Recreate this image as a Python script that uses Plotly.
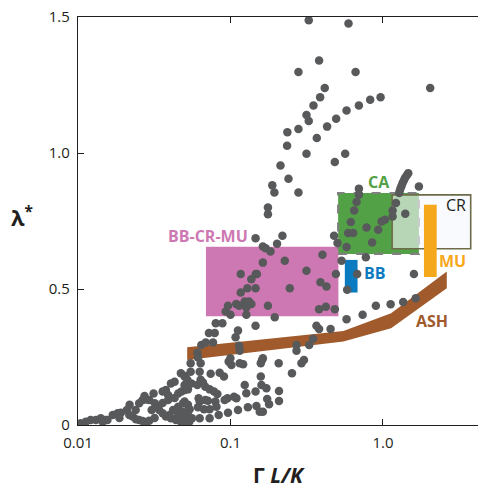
import numpy as np
import plotly.graph_objects as go

# ---------------- data ----------------
pts_x = [
    0.0104, 0.01125, 0.0121, 0.0131, 0.0141, 0.0145, 0.0156, 0.0169, 0.0182, 0.0191,
    0.0209, 0.0217, 0.0228, 0.0240, 0.0252, 0.0265, 0.0279, 0.0293, 0.0252, 0.0265,
    0.0279, 0.0293, 0.0313, 0.0319, 0.0333, 0.0341, 0.0359, 0.0377, 0.0407, 0.0439,
    0.0473, 0.0510, 0.0359, 0.0377, 0.0407, 0.0430, 0.0454, 0.0477, 0.0502, 0.0390,
    0.0420, 0.0454, 0.0489, 0.0454, 0.0489, 0.0473, 0.0503,
    0.0218, 0.0239, 0.0273, 0.0359, 0.0390, 0.0304, 0.0187, 0.0152, 0.0430, 0.0398,
    0.0318,
    0.0548, 0.0637, 0.0973, 0.1014, 0.115, 0.161, 0.158, 0.207, 0.253, 0.0548,
    0.0628, 0.050, 0.0521, 0.0741, 0.0849, 0.0906, 0.0637, 0.0554, 0.050, 0.0526,
    0.0606, 0.066, 0.0684, 0.073, 0.078, 0.082, 0.158, 0.1596, 0.146, 0.172,
    0.208, 0.174, 0.179, 0.208, 0.124, 0.127, 0.1055, 0.0955, 0.0916, 0.1094,
    0.050, 0.0526, 0.0618, 0.0628, 0.0684, 0.0711, 0.0796, 0.0612, 0.067, 0.073,
    0.0809, 0.054, 0.0526, 0.0559, 0.0628, 0.073, 0.0837, 0.0963, 0.112, 0.130,
    0.148, 0.1555, 0.163, 0.049, 0.050, 0.0537, 0.121, 0.303, 0.292,
    0.146, 0.219, 0.163, 0.170, 0.183, 0.202, 0.163, 0.227, 0.1167, 0.1464,
    0.149, 0.137, 0.129, 0.146, 0.1167, 0.0963, 0.109, 0.1138, 0.093, 0.100,
    0.124, 0.132, 0.137, 0.127, 0.127, 0.176, 0.195, 0.146, 0.112, 0.108,
    0.080, 0.0885, 0.0722, 0.0788, 0.0644, 0.0688, 0.0768, 0.0606, 0.0612, 0.1138,
    0.115, 0.0998, 0.163, 0.271, 0.271, 0.328, 0.348, 0.366, 0.381, 0.453,
    0.422, 0.483, 0.381, 0.315, 0.389, 0.426, 0.491, 0.401, 0.535, 0.245,
    0.577, 0.735, 0.898, 1.122, 1.357, 1.637, 0.582, 0.677, 0.772, 1.596,
    0.503, 0.577,
    0.326, 0.594, 0.381, 0.279, 0.661, 2.04, 0.415, 0.387, 0.350, 0.315,
    0.326, 0.279, 0.236, 0.235, 0.2127, 0.240, 0.188, 0.194, 0.279, 0.176,
    0.176, 0.964, 0.824, 0.695, 0.577, 0.493, 0.430, 0.368, 0.315, 0.483,
    0.565, 1.72, 1.464, 1.393, 1.345, 1.305, 1.277, 0.695, 0.695, 0.671,
    0.647, 0.615, 0.780, 0.930, 0.979, 1.029, 1.156, 1.156, 1.216, 1.40,
    0.478, 0.591, 0.637, 0.849, 1.43, 1.37, 1.325, 1.29,
]
pts_y = [
    0.006, 0.012, 0.018, 0.018, 0.025, 0.012, 0.018, 0.037, 0.043, 0.045,
    0.055, 0.037, 0.031, 0.021, 0.018, 0.015, 0.011, 0.016, 0.080, 0.092,
    0.094, 0.092, 0.116, 0.080, 0.068, 0.055, 0.043, 0.031, 0.025, 0.018,
    0.012, 0.016, 0.123, 0.129, 0.153, 0.159, 0.116, 0.123, 0.129, 0.092,
    0.055, 0.067, 0.080, 0.037, 0.049, 0.190, 0.180,
    0.074, 0.055, 0.107, 0.081, 0.110, 0.055, 0.026, 0.018, 0.099, 0.037,
    0.026,
    0.227, 0.227, 0.233, 0.221, 0.227, 0.239, 0.227, 0.227, 0.190, 0.196,
    0.196, 0.178, 0.166, 0.188, 0.192, 0.178, 0.166, 0.153, 0.147, 0.131,
    0.147, 0.156, 0.141, 0.131, 0.123, 0.114, 0.178, 0.147, 0.123, 0.135,
    0.125, 0.096, 0.076, 0.088, 0.147, 0.117, 0.104, 0.098, 0.092, 0.098,
    0.086, 0.074, 0.098, 0.086, 0.092, 0.089, 0.086, 0.065, 0.058, 0.058,
    0.067, 0.058, 0.037, 0.025, 0.025, 0.025, 0.037, 0.045, 0.055, 0.065,
    0.070, 0.049, 0.049, 0.040, 0.012, 0.012, 0.223, 0.239, 0.227,
    0.687, 0.696, 0.656, 0.650, 0.638, 0.666, 0.597, 0.604, 0.555, 0.555,
    0.555, 0.536, 0.503, 0.503, 0.487, 0.438, 0.445, 0.438, 0.417, 0.405,
    0.454, 0.454, 0.445, 0.432, 0.405, 0.438, 0.396, 0.365, 0.347, 0.323,
    0.374, 0.374, 0.338, 0.338, 0.294, 0.303, 0.303, 0.266, 0.248, 0.291,
    0.273, 0.245, 0.245, 0.294, 0.273, 0.294, 0.317, 0.365, 0.353, 0.353,
    0.435, 0.426, 0.426, 0.567, 0.525, 0.509, 0.555, 0.626, 0.604, 0.503,
    0.389, 0.405, 0.438, 0.444, 0.452, 0.466, 0.497, 0.555, 0.617, 0.555,
    0.669, 0.654,
    1.488, 1.476, 1.340, 1.298, 1.298, 1.239, 1.239, 1.205, 1.175, 1.140,
    1.118, 1.088, 1.076, 1.027, 0.954, 0.905, 0.881, 0.855, 0.855, 0.800,
    0.775, 1.205, 1.196, 1.175, 1.156, 1.126, 1.097, 1.055, 0.997, 0.967,
    0.997, 0.877, 0.926, 0.908, 0.890, 0.871, 0.853, 0.869, 0.847, 0.820,
    0.789, 0.746, 0.726, 0.718, 0.748, 0.755, 0.789, 0.767, 0.816, 0.777,
    0.696, 0.706, 0.706, 0.671, 0.917, 0.899, 0.880, 0.862,
]

# regions (rectangles): name, x-range, y-range
region_names = ["BB-CR-MU", "CA", "CR", "MU", "BB"]
region_x0 = [0.069, 0.508, 1.148, 1.856, 0.562]
region_x1 = [0.510, 1.72, 3.76, 2.25, 0.681]
region_y0 = [0.400, 0.629, 0.648, 0.544, 0.487]
region_y1 = [0.655, 0.853, 0.846, 0.810, 0.607]

# ASH band
ash_x = [0.052, 0.55, 1.13, 2.62]
ash_top = [0.286, 0.346, 0.411, 0.564]
ash_bot = [0.239, 0.307, 0.356, 0.503]

# labels
label_text = ["BB-CR-MU", "CA", "CR", "MU", "BB", "ASH"]
label_x = [0.0708, 0.94, 3.01, 2.856, 0.885, 2.111]
label_y = [0.696, 0.8925, 0.8086, 0.604, 0.558, 0.382]

xtick_vals = [0.01, 0.1, 1.0]
xtick_text = ["0.01", "0.1", "1.0"]
ytick_vals = [0, 0.5, 1.0, 1.5]
ytick_text = ["0", "0.5", "1.0", "1.5"]

# ---------------- styles ----------------
FONT = "Open Sans"
PINK = "#cd78b2"
GREEN = "#53a146"
ORANGE = "#f6a81c"
BLUE = "#0b7bc1"
BROWN = "#a05a2c"
DOT = "#58595b"
INK = "#231f20"

fig = go.Figure()

# ASH band polygon
fig.add_trace(go.Scatter(
    x=ash_x + ash_x[::-1], y=ash_top + ash_bot[::-1],
    fill="toself", fillcolor=BROWN, mode="lines", line=dict(width=0),
    hoverinfo="skip", showlegend=False))

# points
fig.add_trace(go.Scatter(
    x=pts_x, y=pts_y, mode="markers",
    marker=dict(size=8.5, color=DOT, line=dict(width=0)),
    showlegend=False))

shape_styles = {
    "BB-CR-MU": dict(fillcolor=PINK, line=dict(width=0)),
    "CA": dict(fillcolor=GREEN, line=dict(color="#808080", width=2.2, dash="dash")),
    "CR": dict(fillcolor="rgba(246,247,251,0.62)", line=dict(color="#6e6c48", width=1.6)),
    "MU": dict(fillcolor=ORANGE, line=dict(width=0)),
    "BB": dict(fillcolor=BLUE, line=dict(width=0)),
}
for n, a, b, c, d in zip(region_names, region_x0, region_x1, region_y0, region_y1):
    fig.add_shape(type="rect", xref="x", yref="y", x0=a, x1=b, y0=c, y1=d,
                  layer="below", **shape_styles[n])

label_styles = {
    "BB-CR-MU": (PINK, True), "CA": (GREEN, True), "CR": (INK, False),
    "MU": (ORANGE, True), "BB": (BLUE, True), "ASH": (BROWN, True),
}
for t, lx, ly in zip(label_text, label_x, label_y):
    col, bold = label_styles[t]
    fig.add_annotation(x=np.log10(lx), y=ly, xref="x", yref="y",
                       text=f"<b>{t}</b>" if bold else t, showarrow=False,
                       font=dict(family=FONT, size=16, color=col),
                       xanchor="center", yanchor="middle")

# y-axis title (upright, as in the reference)
fig.add_annotation(x=-0.14, y=0.51, xref="paper", yref="paper",
                   text="<b>λ<sup>*</sup></b>", showarrow=False,
                   font=dict(family=FONT, size=22, color=INK),
                   xanchor="center", yanchor="middle")

fig.update_xaxes(type="log", range=[-2, 0.623], tickvals=xtick_vals, ticktext=xtick_text,
                 ticks="inside", ticklen=6, tickwidth=1.3, tickcolor=INK,
                 showline=True, linecolor=INK, linewidth=1.4, mirror="ticks",
                 showgrid=False, zeroline=False, ticklabelstandoff=4,
                 tickfont=dict(family=FONT, size=15, color=INK),
                 title=dict(text="<b>Γ <i>L/K</i></b>", standoff=18,
                            font=dict(family=FONT, size=21, color=INK)))
fig.update_yaxes(range=[0, 1.5], tickvals=ytick_vals, ticktext=ytick_text,
                 ticks="inside", ticklen=6, tickwidth=1.3, tickcolor=INK,
                 showline=True, linecolor=INK, linewidth=1.4, mirror=False,
                 showgrid=False, zeroline=False, ticklabelstandoff=4,
                 tickfont=dict(family=FONT, size=15, color=INK))

fig.update_layout(width=478, height=489, margin=dict(l=78, r=0, t=17, b=64),
                  paper_bgcolor="white", plot_bgcolor="white", showlegend=False)

fig.write_html("out.html")
